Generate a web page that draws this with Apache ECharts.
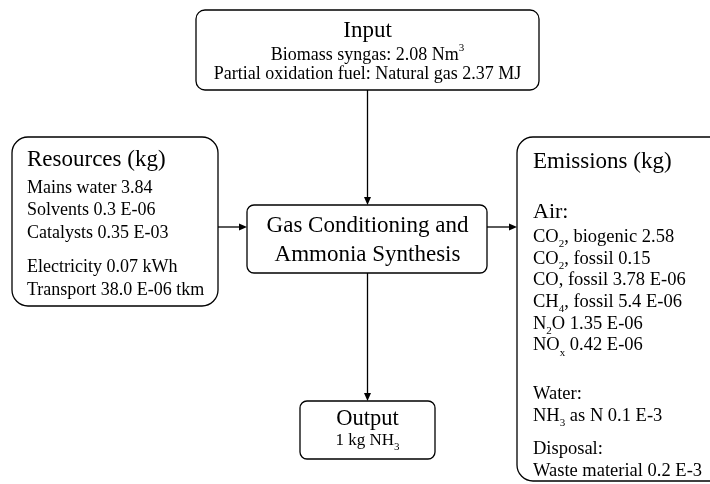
<!DOCTYPE html>
<html>
<head>
<meta charset="utf-8">
<script src="https://cdn.jsdelivr.net/npm/echarts@6/dist/echarts.min.js"></script>
<style>
    html, body { margin: 0; padding: 0; background: #fff; }
    #chartAmmonia { width: 710px; height: 484px; }
</style>
</head>
<body>
<div id="chartAmmonia"></div>
<script>
// texts of the diagram ({sub|..} / {sup|..} = sub- and superscripts)
var inputTitle = 'Input';
var inputLines = ['Biomass syngas: 2.08 Nm{sup|3}', 'Partial oxidation fuel: Natural gas 2.37 MJ'];
var resourceTitle = 'Resources (kg)';
var resourceMaterials = ['Mains water 3.84', 'Solvents 0.3 E-06', 'Catalysts 0.35 E-03'];
var resourceEnergy = ['Electricity 0.07 kWh', 'Transport 38.0 E-06 tkm'];
var processLines = ['Gas Conditioning and', 'Ammonia Synthesis'];
var outputTitle = 'Output';
var outputLines = ['1 kg NH{sub|3}'];
var emissionTitle = 'Emissions (kg)';
var airTitle = 'Air:';
var airLines = ['CO{sub|2}, biogenic 2.58', 'CO{sub|2}, fossil 0.15', 'CO, fossil 3.78 E-06',
    'CH{sub|4}, fossil 5.4 E-06', 'N{sub|2}O 1.35 E-06', 'NO{sub|x} 0.42 E-06'];
var waterLines = ['Water:', 'NH{sub|3} as N 0.1 E-3'];
var disposalLines = ['Disposal:', 'Waste material 0.2 E-3'];

var FONT = "'Liberation Serif', 'Times New Roman', serif";

var diagram = {
    init: function () {
        var myChart = echarts.init(document.getElementById('chartAmmonia'));
        myChart.setOption(this.option(), true);
    },

    box: function (x, y, w, h, r) {
        return {
            type: 'rect',
            shape: { x: x, y: y, width: w, height: h, r: r },
            style: { fill: '#fff', stroke: '#000', lineWidth: 1.3 }
        };
    },

    label: function (x, y, str, size, align) {
        var lh = Math.round(size * 1.4);
        var subSize = Math.round(size * 0.62);
        return {
            type: 'text',
            z: 10,
            style: {
                x: x,
                y: y,
                text: str,
                fill: '#000',
                fontFamily: FONT,
                fontSize: size,
                lineHeight: lh,
                align: align || 'left',
                verticalAlign: 'middle',
                rich: {
                    sub: { fontFamily: FONT, fontSize: subSize, lineHeight: subSize + 1, verticalAlign: 'bottom', fill: '#000' },
                    sup: { fontFamily: FONT, fontSize: subSize, lineHeight: Math.round(lh * 0.66), verticalAlign: 'top', fill: '#000' }
                }
            }
        };
    },

    lines: function (list, x, y0, step, size, align) {
        var self = this;
        return list.map(function (s, i) {
            return self.label(x, y0 + i * step, s, size, align);
        });
    },

    arrow: function (x1, y1, x2, y2) {
        var len = 8, half = 3.5;
        var dx = x2 - x1, dy = y2 - y1;
        var d = Math.sqrt(dx * dx + dy * dy);
        var ux = dx / d, uy = dy / d;
        var bx = x2 - ux * len, by = y2 - uy * len;
        return [{
            type: 'line',
            shape: { x1: x1, y1: y1, x2: bx, y2: by },
            style: { stroke: '#000', lineWidth: 1.3 }
        }, {
            type: 'polygon',
            shape: { points: [[x2, y2], [bx - uy * half, by + ux * half], [bx + uy * half, by - ux * half]] },
            style: { fill: '#000' }
        }];
    },

    option: function () {
        var g = [];
        // connectors
        g = g.concat(this.arrow(367.5, 90, 367.5, 205));
        g = g.concat(this.arrow(367.5, 273, 367.5, 401));
        g = g.concat(this.arrow(218, 227, 247, 227));
        g = g.concat(this.arrow(487, 227, 517, 227));

        // boxes
        g.push(this.box(196, 10, 343, 80, 9));
        g.push(this.box(12, 137, 206, 169, 16));
        g.push(this.box(247, 205, 240, 68, 7));
        g.push(this.box(300, 401, 135, 58, 7));
        g.push(this.box(517, 137, 230, 344, 16));

        // input
        g.push(this.label(367.5, 31, inputTitle, 23, 'center'));
        g = g.concat(this.lines(inputLines, 367.5, 55.5, 18.3, 18, 'center'));

        // resources
        g.push(this.label(27, 159.5, resourceTitle, 23));
        g = g.concat(this.lines(resourceMaterials, 27, 188, 22.5, 18));
        g = g.concat(this.lines(resourceEnergy, 27, 267, 23.5, 18));

        // process
        g = g.concat(this.lines(processLines, 367.5, 226, 28.5, 23, 'center'));

        // output
        g.push(this.label(367.5, 419, outputTitle, 22.5, 'center'));
        g = g.concat(this.lines(outputLines, 367.5, 441, 22, 17, 'center'));

        // emissions
        g.push(this.label(533, 162, emissionTitle, 23));
        g.push(this.label(533, 212.5, airTitle, 22));
        g = g.concat(this.lines(airLines, 533, 237, 21.7, 18.5));
        g = g.concat(this.lines(waterLines, 533, 394, 21.7, 18.5));
        g = g.concat(this.lines(disposalLines, 533, 449, 21.7, 18.5));

        return {
            backgroundColor: '#fff',
            animation: false,
            graphic: { elements: g }
        };
    }
};

diagram.init();
</script>
</body>
</html>
